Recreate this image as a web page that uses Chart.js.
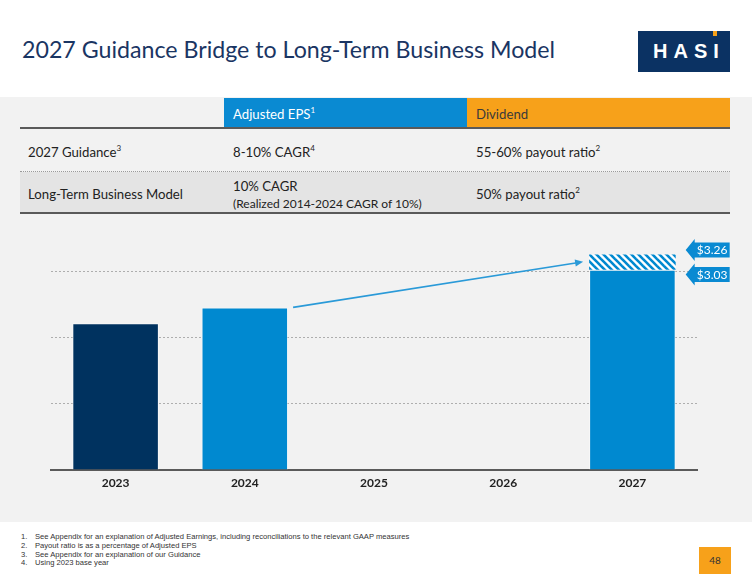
<!DOCTYPE html>
<html lang="en">
<head>
    <meta charset="UTF-8">
    <title>2027 Guidance Bridge to Long-Term Business Model</title>
    <style>
        body {
            margin: 0;
            width: 752px;
            height: 582px;
            position: relative;
            overflow: hidden;
            background: #fff;
            font-family: 'Lato', 'Open Sans', sans-serif;
            color: #222;
        }
        .abs { position: absolute; }
        .title {
            left: 22px;
            top: 33px;
            font-size: 23.2px;
            line-height: 32px;
            color: #1a3563;
            white-space: nowrap;
        }
        .logo {
            left: 638px;
            top: 31px;
            width: 92px;
            height: 41px;
            background: #0b3263;
            color: #fff;
            font-family: 'Liberation Sans', Arial, sans-serif;
            font-weight: bold;
            font-size: 20px;
            letter-spacing: 6px;
            line-height: 41px;
            text-indent: 15px;
        }
        .logo .tick {
            position: absolute;
            left: 75px;
            top: 0;
            width: 4px;
            height: 5px;
            background: #f7a11a;
        }
        .panel {
            left: 0;
            top: 97px;
            width: 752px;
            height: 425px;
            background: #f2f2f2;
        }
        .cell { font-size: 13.2px; white-space: nowrap; }
        .head-blue {
            left: 224px; top: 98px; width: 243px; height: 30px;
            background: #0a8ad2; color: #fff;
        }
        .head-orange {
            left: 467px; top: 98px; width: 263px; height: 30px;
            background: #f7a11a; color: #3a3a3a;
        }
        .head-blue span, .head-orange span {
            position: absolute; left: 9px; top: 8px;
        }
        sup { font-size: 8px; line-height: 0; vertical-align: 6px; }
        .rule { left: 20px; width: 710px; height: 2px; background: #5a5a5a; }
        .dots { left: 20px; width: 710px; height: 0; border-top: 1px dotted #9a9a9a; }
        .row2 { left: 20px; top: 172px; width: 710px; height: 41px; background: #e4e4e4; }
        .small { font-size: 12px; }
        .chart-box {
            left: 0; top: 225px; width: 752px; height: 276px;
        }
        .notes {
            left: 21px; top: 533px;
            font-family: 'Liberation Sans', Arial, sans-serif;
            font-size: 7.6px; line-height: 8.8px; color: #333;
        }
        .notes div span { display: inline-block; width: 14px; }
        .page {
            left: 699px; top: 547px; width: 32px; height: 27px;
            background: #f7a11a; color: #333;
            font-size: 10px; line-height: 27px; text-align: center;
        }
    </style>
    <script src="https://cdn.jsdelivr.net/npm/chart.js"></script>
</head>
<body>
    <div class="abs title">2027 Guidance Bridge to Long-Term Business Model</div>
    <div class="abs logo">HASI<div class="tick"></div></div>

    <div class="abs panel"></div>
    <div class="abs head-blue cell"><span>Adjusted EPS<sup>1</sup></span></div>
    <div class="abs head-orange cell"><span>Dividend</span></div>
    <div class="abs rule" style="top:127px"></div>
    <div class="abs cell" style="left:28px;top:144px">2027 Guidance<sup>3</sup></div>
    <div class="abs cell" style="left:233px;top:144px">8-10% CAGR<sup>4</sup></div>
    <div class="abs cell" style="left:476px;top:144px">55-60% payout ratio<sup>2</sup></div>
    <div class="abs dots" style="top:171px"></div>
    <div class="abs row2"></div>
    <div class="abs cell" style="left:28px;top:186px">Long-Term Business Model</div>
    <div class="abs cell" style="left:233px;top:178px">10% CAGR</div>
    <div class="abs cell small" style="left:233px;top:196px">(Realized 2014-2024 CAGR of 10%)</div>
    <div class="abs cell" style="left:476px;top:186px">50% payout ratio<sup>2</sup></div>
    <div class="abs rule" style="top:212px"></div>

    <div class="abs chart-box"><canvas id="epsChart"></canvas></div>

    <div class="abs notes">
        <div><span>1.</span>See Appendix for an explanation of Adjusted Earnings, including reconciliations to the relevant GAAP measures</div>
        <div><span>2.</span>Payout ratio is as a percentage of Adjusted EPS</div>
        <div><span>3.</span>See Appendix for an explanation of our Guidance</div>
        <div><span>4.</span>Using 2023 base year</div>
    </div>
    <div class="abs page">48</div>

    <script>
        // data
        const years = ['2023', '2024', '2025', '2026', '2027'];
        const adjustedEps = [2.22, 2.46, null, null, 3.03];
        const guidanceRange = [null, null, null, null, [3.03, 3.26]];
        const calloutValues = [3.26, 3.03];
        const calloutLabels = ['$3.26', '$3.03'];
        const bridgeArrow = [2.46, 3.15]; // from 2024 bar top to the 2027 guidance
        const gridValues = [1, 2, 3];

        const navy = '#00325f';
        const blue = '#0089d0';

        // hatch for the guidance range
        function makeHatch() {
            const tile = document.createElement('canvas');
            tile.width = 7;
            tile.height = 7;
            const t = tile.getContext('2d');
            t.fillStyle = '#ffffff';
            t.fillRect(0, 0, 7, 7);
            t.strokeStyle = blue;
            t.lineWidth = 2.6;
            [-7, 0, 7].forEach(k => {
                t.beginPath();
                t.moveTo(k - 2, -2);
                t.lineTo(k + 9, 9);
                t.stroke();
            });
            return t.createPattern(tile, 'repeat');
        }

        const overlay = {
            id: 'overlay',
            afterDatasetsDraw(chart) {
                const ctx = chart.ctx;
                const y = chart.scales.y;
                const bars = chart.getDatasetMeta(0).data;
                const from = bars[1], to = bars[4];

                // bridge arrow
                const x1 = from.x + from.width / 2 + 5, y1 = y.getPixelForValue(bridgeArrow[0]);
                const x2 = to.x - to.width / 2 - 6, y2 = y.getPixelForValue(bridgeArrow[1]);
                const a = Math.atan2(y2 - y1, x2 - x1);
                ctx.save();
                ctx.strokeStyle = '#2a9ad8';
                ctx.fillStyle = '#2a9ad8';
                ctx.lineWidth = 1.6;
                ctx.beginPath();
                ctx.moveTo(x1, y1);
                ctx.lineTo(x2 - 6 * Math.cos(a), y2 - 6 * Math.sin(a));
                ctx.stroke();
                ctx.beginPath();
                ctx.moveTo(x2, y2);
                ctx.lineTo(x2 - 8 * Math.cos(a) + 3.5 * Math.sin(a), y2 - 8 * Math.sin(a) - 3.5 * Math.cos(a));
                ctx.lineTo(x2 - 8 * Math.cos(a) - 3.5 * Math.sin(a), y2 - 8 * Math.sin(a) + 3.5 * Math.cos(a));
                ctx.closePath();
                ctx.fill();

                // value callouts
                const tip = to.x + to.width / 2 + 10;
                const shift = [-4.5, 4.7];
                ctx.font = '12px Lato, sans-serif';
                ctx.textAlign = 'center';
                ctx.textBaseline = 'middle';
                calloutValues.forEach((v, i) => {
                    const cy = y.getPixelForValue(v) + shift[i];
                    ctx.fillStyle = '#0a8ad2';
                    ctx.beginPath();
                    ctx.moveTo(tip, cy);
                    ctx.lineTo(tip + 9, cy - 11);
                    ctx.lineTo(tip + 9, cy - 7.5);
                    ctx.lineTo(tip + 44, cy - 7.5);
                    ctx.lineTo(tip + 44, cy + 7.5);
                    ctx.lineTo(tip + 9, cy + 7.5);
                    ctx.lineTo(tip + 9, cy + 11);
                    ctx.closePath();
                    ctx.fill();
                    ctx.fillStyle = '#fff';
                    ctx.fillText(calloutLabels[i], tip + 26.5, cy + 0.5);
                });
                ctx.restore();
            }
        };

        new Chart(document.getElementById('epsChart'), {
            type: 'bar',
            data: {
                labels: years,
                datasets: [{
                    label: 'Adjusted EPS',
                    data: adjustedEps,
                    backgroundColor: [navy, blue, blue, blue, blue],
                    borderColor: 'rgba(255,255,255,0.5)',
                    borderWidth: 1,
                    barPercentage: 0.67,
                    categoryPercentage: 1,
                    grouped: false
                }, {
                    label: '2027 Guidance range',
                    data: guidanceRange,
                    backgroundColor: makeHatch(),
                    barPercentage: 0.67,
                    categoryPercentage: 1,
                    grouped: false
                }]
            },
            options: {
                responsive: true,
                maintainAspectRatio: false,
                animation: false,
                layout: { padding: { left: 51, right: 55, top: 7, bottom: 4.5 } },
                plugins: {
                    legend: { display: false },
                    tooltip: { enabled: false }
                },
                scales: {
                    x: {
                        grid: { display: false, drawTicks: false },
                        border: { display: true, color: '#5a5a5a', width: 2 },
                        ticks: {
                            color: '#222',
                            padding: 6,
                            font: { family: 'Lato', size: 12, weight: 'bold' }
                        }
                    },
                    y: {
                        min: 0,
                        max: 3.6,
                        afterBuildTicks: axis => {
                            axis.ticks = [0].concat(gridValues).map(v => ({ value: v }));
                        },
                        ticks: { display: false },
                        grid: {
                            drawTicks: false,
                            lineWidth: 1,
                            color: c => gridValues.includes(c.tick && c.tick.value) ? '#aeaeae' : 'rgba(0,0,0,0)'
                        },
                        border: { display: false, dash: [2, 2] }
                    }
                }
            },
            plugins: [overlay]
        });
    </script>
</body>
</html>
